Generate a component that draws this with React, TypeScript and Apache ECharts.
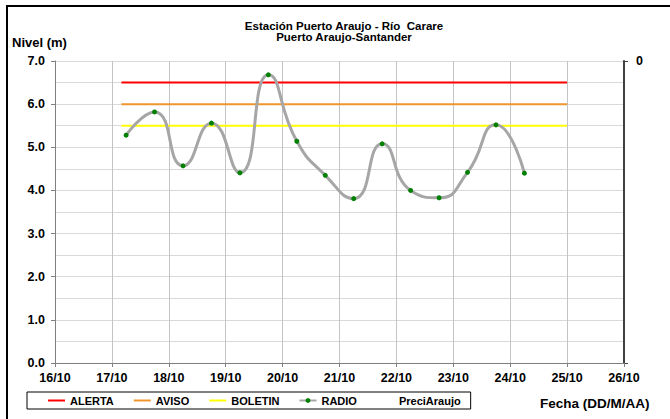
import React, { useEffect, useRef } from "react";
import * as echarts from "echarts";

// ---- data ----
const radioDates = [
  "17/10 06:00", "17/10 18:00", "18/10 06:00", "18/10 18:00", "19/10 06:00",
  "19/10 18:00", "20/10 06:00", "20/10 18:00", "21/10 06:00", "21/10 18:00",
  "22/10 06:00", "22/10 18:00", "23/10 06:00", "23/10 18:00", "24/10 06:00",
];
const radioValues = [5.28, 5.82, 4.57, 5.56, 4.41, 6.68, 5.14, 4.35, 3.81, 5.08, 4.0, 3.83, 4.42, 5.52, 4.4];

const thresholdStart = "17/10 04:00";
const thresholdEnd = "25/10 00:00";
const alertaLevel = 6.5;
const avisoLevel = 6.0;
const boletinLevel = 5.5;

const xTickStartDay = 16; // 16/10
const xTickCount = 10; // up to 26/10
const yMax = 7;

const FONT = "'Liberation Sans', Arial, sans-serif";

function dayOffset(s: string): number {
  const [d, t] = s.split(" ");
  const day = parseInt(d.split("/")[0], 10);
  const [hh, mm] = t.split(":").map((v) => parseInt(v, 10));
  return day - xTickStartDay + (hh + mm / 60) / 24;
}

export default function App() {
  const ref = useRef<HTMLDivElement>(null);
  useEffect(() => {
    if (!ref.current) return;
    const chart = echarts.init(ref.current, undefined, { renderer: "svg" });
    const radioData = radioDates.map((d, i) => [dayOffset(d), radioValues[i]]);
    const thr = (v: number) => [
      [dayOffset(thresholdStart), v],
      [dayOffset(thresholdEnd), v],
    ];
    const base = { fontFamily: FONT, fontWeight: "bold" as const, fontSize: 11, color: "#000" };
    const hidden = { opacity: 0 };
    chart.setOption({
      animation: false,
      backgroundColor: "#fff",
      textStyle: { fontFamily: FONT },
      title: {
        text: "Estación Puerto Araujo - Río  Carare\nPuerto Araujo-Santander",
        left: 339,
        top: 15,
        textAlign: "center",
        textStyle: { ...base, fontSize: 11.5, lineHeight: 11 },
      },
      grid: { left: 55, right: 46, top: 61, bottom: 56 },
      legend: {
        left: 27,
        top: 392,
        orient: "horizontal",
        borderColor: "#000",
        borderWidth: 1,
        padding: [3, 10, 3, 20],
        itemWidth: 17,
        itemHeight: 6,
        itemGap: 19,
        textStyle: { ...base },
        data: [
          { name: "ALERTA", itemStyle: hidden },
          { name: "AVISO", itemStyle: hidden },
          { name: "BOLETIN", itemStyle: hidden },
          "RADIO",
          { name: "PreciAraujo", itemStyle: hidden, lineStyle: hidden },
        ],
      },
      xAxis: {
        type: "value",
        min: 0,
        max: xTickCount,
        interval: 1,
        axisLine: { show: true, lineStyle: { color: "#808080", width: 1 } },
        axisTick: { show: true, length: 4, lineStyle: { color: "#808080" } },
        axisLabel: {
          ...base,
          fontSize: 12.5,
          margin: 8,
          formatter: (v: number) => `${xTickStartDay + v}/10`,
        },
        splitLine: { show: true, lineStyle: { color: "#C4C4C4", width: 1 } },
      },
      yAxis: [
        {
          type: "value",
          min: 0,
          max: yMax,
          interval: 1,
          axisLine: { show: true, lineStyle: { color: "#808080", width: 1 } },
          axisTick: { show: true, length: 4, lineStyle: { color: "#808080" } },
          axisLabel: { ...base, fontSize: 12.5, margin: 10, formatter: (v: number) => v.toFixed(1) },
          splitLine: { show: true, lineStyle: { color: "#D9D9D9", width: 1 } },
          minorSplitLine: { show: true, lineStyle: { color: "#D9D9D9", width: 1 } },
          minorTick: { show: false, splitNumber: 2 },
        },
        {
          type: "value",
          position: "right",
          inverse: true,
          min: 0,
          max: 1,
          interval: 1,
          axisLine: { show: true, lineStyle: { color: "#404040", width: 2 } },
          axisTick: { show: true, length: 4, lineStyle: { color: "#404040" } },
          axisLabel: {
            ...base,
            fontSize: 12.5,
            margin: 12,
            formatter: (v: number) => (v === 0 ? "0" : ""),
          },
          splitLine: { show: false },
        },
      ],
      graphic: [
        {
          type: "rect",
          shape: { x: 7, y: 6, width: 720, height: 480 },
          style: { fill: "none", stroke: "#000", lineWidth: 2 },
          silent: true,
        },
        {
          type: "text",
          x: 12,
          y: 36,
          style: { text: "Nivel (m)", font: `bold 13px ${FONT}`, fill: "#000" },
        },
        {
          type: "text",
          x: 540,
          y: 396,
          style: { text: "Fecha (DD/M/AA)", font: `bold 13.5px ${FONT}`, fill: "#000" },
        },
      ],
      series: [
        {
          name: "ALERTA",
          type: "line",
          data: thr(alertaLevel),
          symbol: "none",
          lineStyle: { color: "#FF0000", width: 2 },
          itemStyle: { color: "#FF0000" },
        },
        {
          name: "AVISO",
          type: "line",
          data: thr(avisoLevel),
          symbol: "none",
          lineStyle: { color: "#F0962E", width: 2 },
          itemStyle: { color: "#F0962E" },
        },
        {
          name: "BOLETIN",
          type: "line",
          data: thr(boletinLevel),
          symbol: "none",
          lineStyle: { color: "#FFFF00", width: 2 },
          itemStyle: { color: "#FFFF00" },
        },
        {
          name: "RADIO",
          type: "line",
          data: radioData,
          smooth: 0.55,
          symbol: "circle",
          symbolSize: 5,
          showSymbol: true,
          lineStyle: { color: "#A6A6A6", width: 3 },
          itemStyle: { color: "#008000", borderWidth: 0 },
          z: 5,
        },
        {
          name: "PreciAraujo",
          type: "line",
          yAxisIndex: 1,
          data: [],
          symbol: "none",
          lineStyle: { color: "rgba(0,0,0,0)" },
          itemStyle: { color: "rgba(0,0,0,0)" },
        },
      ],
    });
    return () => chart.dispose();
  }, []);
  return (
    <div
      ref={ref}
      style={{ position: "absolute", left: 0, top: 0, width: 670, height: 419, background: "#fff" }}
    />
  );
}
